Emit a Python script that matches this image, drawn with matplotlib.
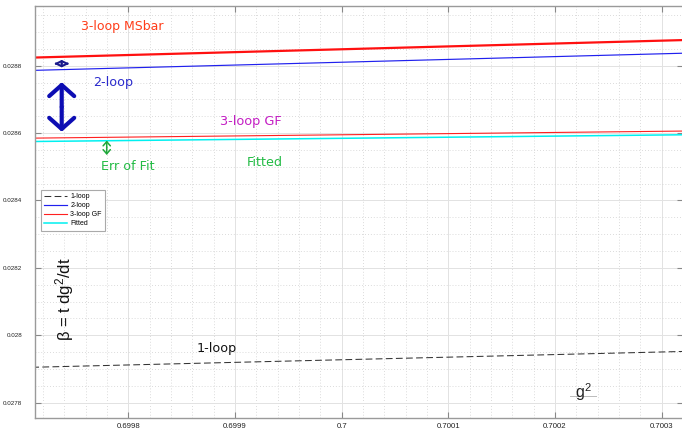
import matplotlib
matplotlib.use('Agg')
import matplotlib.pyplot as plt
from matplotlib.ticker import MultipleLocator, FormatStrFormatter
from matplotlib.patches import ArrowStyle
from matplotlib.lines import Line2D

plt.rcParams['mathtext.fontset'] = 'custom'
plt.rcParams['mathtext.rm'] = 'Liberation Sans'
plt.rcParams['mathtext.it'] = 'Liberation Sans'

# g^2 sampled at the two ends of the zoomed window
g2 = [0.69971, 0.70032]

beta_1loop = [0.027905, 0.027952]
beta_2loop = [0.028786, 0.028837]
beta_3loop_gf = [0.028585, 0.028606]
beta_fitted = [0.028575, 0.028595]
beta_3loop_msbar = [0.028824, 0.028876]

x_ticks = [0.6998, 0.6999, 0.7, 0.7001, 0.7002, 0.7003]
y_ticks = [0.0278, 0.028, 0.0282, 0.0284, 0.0286, 0.0288]


def double_arrow(ax, x, y0, y1, color, lw, hl, hw):
    # two half arrows from the middle, so short gaps still get both heads
    ym = 0.5 * (y0 + y1)
    for y in (y0, y1):
        ax.annotate('', xy=(x, y), xytext=(x, ym),
                    arrowprops=dict(arrowstyle=ArrowStyle('->', head_length=hl, head_width=hw),
                                    mutation_scale=1, lw=lw, color=color,
                                    shrinkA=0, shrinkB=0))


fig = plt.figure(figsize=(6.82, 4.29), dpi=100)
ax = fig.add_axes([0.0509, 0.0268, 0.9506, 0.9599])

ax.plot(g2, beta_1loop, color='#333333', lw=0.75, linestyle=(0, (6.5, 3.2)), label='1-loop')
ax.plot(g2, beta_2loop, color='#2020ee', lw=0.85, label='2-loop')
ax.plot(g2, beta_3loop_gf, color='#ff2020', lw=0.8, label='3-loop GF')
ax.plot(g2, beta_fitted, color='#00f0f0', lw=1.1, label='Fitted')
ax.plot(g2, beta_3loop_msbar, color='#ff1010', lw=1.6)

ax.set_xlim(0.6997123, 0.7003200)
ax.set_ylim(0.027756, 0.028978)

ax.set_xticks(x_ticks)
ax.set_yticks(y_ticks)
ax.xaxis.set_minor_locator(MultipleLocator(0.00002))
ax.yaxis.set_minor_locator(MultipleLocator(0.00005))
ax.xaxis.set_major_formatter(FormatStrFormatter('%g'))
ax.yaxis.set_major_formatter(FormatStrFormatter('%g'))

ax.grid(which='major', color='#e2e2e2', lw=0.7, linestyle='-')
ax.grid(which='minor', color='#cfcfcf', lw=0.6, linestyle=(0, (1, 2.5)))
ax.set_axisbelow(True)

ax.tick_params(which='major', direction='in', length=4.3, width=0.8, color='#888888',
               top=True, right=True, labelcolor='#222222')
ax.tick_params(which='minor', length=0, top=True, right=True)
ax.tick_params(axis='x', labelsize=5.6, pad=4.2)
ax.tick_params(axis='y', labelsize=4.5, pad=9)
for lab in ax.get_xticklabels() + ax.get_yticklabels():
    lab.set_family('Liberation Sans')
for side in ax.spines.values():
    side.set_color('#9a9a9a')
    side.set_linewidth(1.0)

leg = ax.legend(loc='upper left', bbox_to_anchor=(0.0097, 0.5524),
                prop={'family': 'Liberation Sans', 'size': 5},
                handlelength=3.3, handletextpad=0.45, labelspacing=0.3,
                borderpad=0.45, borderaxespad=0, fancybox=False, framealpha=1)
leg.get_frame().set_edgecolor('#aaaaaa')
leg.get_frame().set_linewidth(0.8)

# curve annotations
ax.text(0.6997557, 0.028915, '3-loop MSbar', color='#ff3d1a', fontsize=9, va='center')
ax.text(0.6997666, 0.028750, '2-loop', color='#2a2acc', fontsize=9.2, va='center')
ax.text(0.6998862, 0.028633, '3-loop GF', color='#c41ec4', fontsize=9.3, va='center')
ax.text(0.6999112, 0.028514, 'Fitted', color='#22bb44', fontsize=9.2, va='center')
ax.text(0.6997741, 0.028502, 'Err of Fit', color='#22bb44', fontsize=9.2, va='center')
ax.text(0.6998642, 0.027960, '1-loop', color='#111111', fontsize=9.2, va='center')

# gaps between the curves
double_arrow(ax, 0.6997376, 0.028604, 0.028751, '#0d0db3', 3.0, 8, 9)
double_arrow(ax, 0.6997376, 0.028795, 0.028817, '#1a1a8c', 1.5, 2.0, 4.2)
double_arrow(ax, 0.6997798, 0.028535, 0.028578, '#1fa83a', 1.1, 3, 2.6)

# axis labels drawn inside the box
ax.text(0.6997407, 0.028108, 'β = t dg$^2$/dt', rotation=90, fontsize=12,
        family='Liberation Sans', color='#111111', ha='center', va='center')
ax.text(0.7002270, 0.027830, 'g$^2$', fontsize=11.5, family='Liberation Sans',
        color='#222222', ha='center', va='center')
ax.add_line(Line2D([0.8257, 0.8650], [0.0526, 0.0526], transform=ax.transAxes,
                   color='#bbbbbb', lw=0.7))

fig.savefig('out.png', dpi=100)
